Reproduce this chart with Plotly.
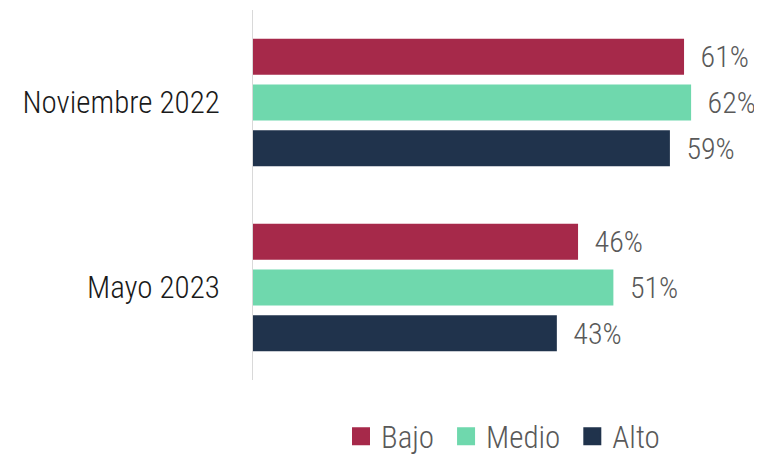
import plotly.graph_objects as go

categories = ["Noviembre 2022", "Mayo 2023"]
series_names = ["Bajo", "Medio", "Alto"]
bajo = [61, 46]
medio = [62, 51]
alto = [59, 43]
colors = ["#A6294A", "#6FD8AD", "#20334C"]

FONT = "Roboto Condensed, Liberation Sans Narrow, Roboto, sans-serif"
NB = "\u00a0"

fig = go.Figure()
for name, vals, col in zip(series_names, [bajo, medio, alto], colors):
    fig.add_trace(go.Bar(
        y=categories, x=vals, orientation="h", name=name,
        marker=dict(color=col, line=dict(width=0)),
        text=[NB * 2 + f"{v}%" for v in vals], textposition="outside",
        constraintext="none",
        textfont=dict(family=FONT, size=30, color="#595959", weight=300),
        cliponaxis=False, showlegend=False,
    ))
# legend entries with larger square swatches
for name, col in zip(series_names, colors):
    fig.add_trace(go.Scatter(
        x=[None], y=[None], mode="markers", name=name + NB,
        marker=dict(symbol="square", size=20, color=col, line=dict(width=2, color=col)),
        showlegend=True,
    ))

fig.update_layout(
    width=762, height=455,
    margin=dict(l=245, r=10, t=2, b=83, autoexpand=False),
    paper_bgcolor="white", plot_bgcolor="white",
    barmode="group", bargap=0.258, bargroupgap=0.217,
    font=dict(family=FONT, size=31, color="#1a1a1a", weight=300),
    xaxis=dict(range=[0, 71.75], showgrid=False, zeroline=False,
               showticklabels=False, showline=False),
    yaxis=dict(categoryorder="array", categoryarray=categories,
               range=[1.5, -0.5], showgrid=False, zeroline=False,
               showline=True, linecolor="#d9d9d9", linewidth=1,
               ticks="", ticklabelstandoff=26,
               tickfont=dict(family=FONT, size=31, color="#1a1a1a", weight=300)),
    legend=dict(orientation="h", x=0.1736, xanchor="left",
                yref="container", y=0.058, yanchor="middle",
                font=dict(family=FONT, size=31, color="#595959", weight=300),
                itemwidth=30, tracegroupgap=0),
)

fig.write_html("out.html")
